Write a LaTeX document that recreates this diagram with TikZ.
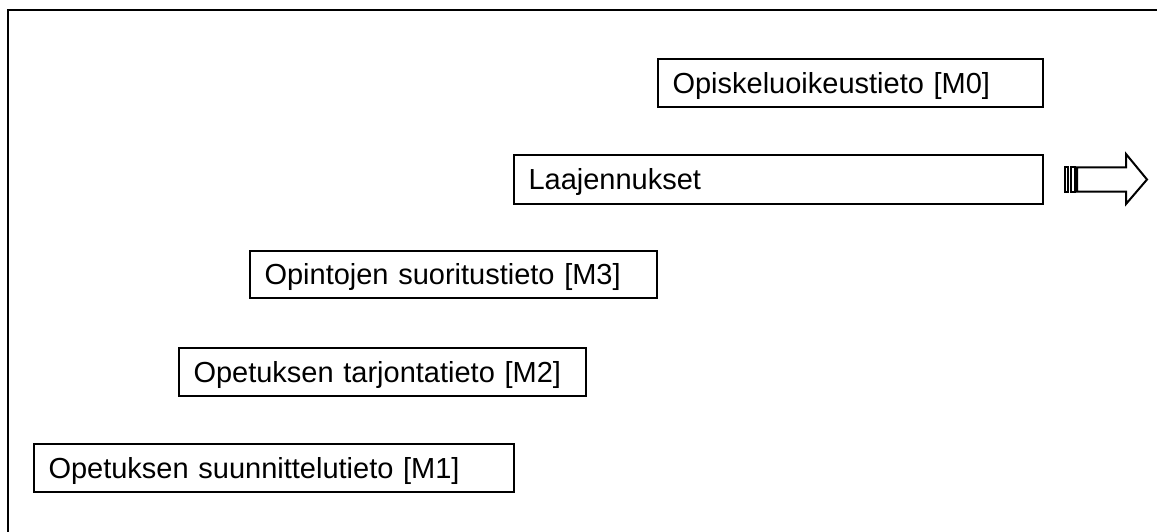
\documentclass[tikz,border=0pt]{standalone}
\usepackage{fontspec}
\setmainfont{Liberation Sans}
\begin{document}
\begin{tikzpicture}[x=1pt,y=-1pt,
  box/.style={draw=black, line width=2pt, rectangle, anchor=north west,
    minimum height=48pt, inner xsep=14.5pt, inner ysep=0pt, align=left,
    text height=20.8pt, text depth=0pt, font=\fontsize{29}{35}\selectfont},
  frame/.style={line width=2pt, draw=black},
  arrowline/.style={line width=2pt, draw=black, fill=white, line join=miter}]
\useasboundingbox (0,0) rectangle (1157,532);
% outer frame
\coordinate (fbl) at (8,533);
\coordinate (ftl) at (8,10);
\coordinate (ftr) at (1158,10);
\draw[frame] (fbl) -- (ftl) -- (ftr);
% boxes
\node[box, text width=356pt] (m0) at (657,58.5) {Opiskeluoikeustieto [M0]};
\node[box, text width=500pt, minimum height=49pt] (lj) at (513,154) {Laajennukset};
\node[box, text width=378pt, minimum height=47pt] (m3) at (249,250) {Opintojen suoritustieto [M3]};
\node[box, text width=378pt] (m2) at (178,347) {Opetuksen tarjontatieto [M2]};
\node[box, text width=451pt] (m1) at (33,443) {Opetuksen suunnittelutieto [M1]};
% striped arrow
\draw[arrowline] (1065,167.5) rectangle (1068,191.5);
\draw[arrowline] (1071,167.5) rectangle (1075,191.5);
\draw[arrowline] (1077,167.5) -- (1126,167.5) -- (1126,154) -- (1147,179.5)
  -- (1126,204) -- (1126,191.5) -- (1077,191.5) -- cycle;
\end{tikzpicture}
\end{document}
